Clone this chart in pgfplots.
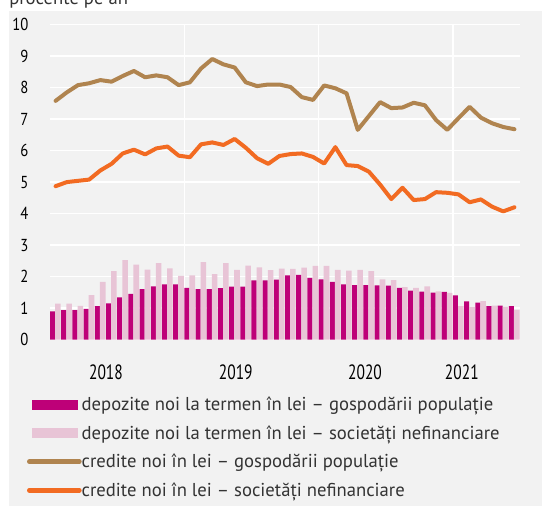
\documentclass[border=0pt]{standalone}
\usepackage{pgfplots}
\pgfplotsset{compat=1.18}
\usepackage{pgfplotstable}
\usepackage{fontspec}
\setmainfont{PT Sans}
\newfontfamily\ycond{PT Sans}[FakeStretch=0.85]
\newfontfamily\xcond{PT Sans}[FakeStretch=0.75]
\definecolor{bgc}{HTML}{F2F2F2}
\definecolor{darkmag}{HTML}{BE0078}
\definecolor{lightpink}{HTML}{E8C4D6}
\definecolor{brownl}{HTML}{B0844F}
\definecolor{orangel}{HTML}{F26B22}
\definecolor{txt}{HTML}{333333}

\pgfplotstableread{
x dark light brown orange
0 0.89 1.14 7.58 4.87
1 0.93 1.14 7.85 5.00
2 0.93 1.07 8.08 5.04
3 0.97 1.41 8.14 5.08
4 1.06 1.83 8.24 5.37
5 1.15 2.17 8.19 5.58
6 1.34 2.52 8.37 5.91
7 1.45 2.38 8.53 6.03
8 1.60 2.22 8.33 5.88
9 1.69 2.43 8.39 6.07
10 1.75 2.26 8.33 6.13
11 1.75 2.02 8.08 5.84
12 1.64 2.04 8.17 5.79
13 1.60 2.46 8.61 6.20
14 1.60 2.08 8.91 6.26
15 1.63 2.43 8.74 6.18
16 1.68 2.21 8.64 6.37
17 1.68 2.35 8.17 6.09
18 1.88 2.29 8.05 5.76
19 1.88 2.20 8.10 5.58
20 1.90 2.25 8.10 5.83
21 2.04 2.24 8.02 5.89
22 2.05 2.28 7.70 5.91
23 1.96 2.34 7.61 5.80
24 1.91 2.34 8.07 5.59
25 1.83 2.21 7.98 6.11
26 1.75 2.19 7.82 5.54
27 1.73 2.21 6.66 5.51
28 1.73 2.17 7.10 5.33
29 1.72 1.91 7.54 4.92
30 1.71 1.89 7.35 4.46
31 1.64 1.66 7.37 4.82
32 1.55 1.64 7.52 4.43
33 1.52 1.69 7.44 4.46
34 1.49 1.53 6.97 4.68
35 1.51 1.48 6.66 4.66
36 1.40 1.06 7.03 4.61
37 1.21 1.03 7.39 4.36
38 1.17 1.22 7.05 4.45
39 1.06 1.08 6.87 4.22
40 1.08 1.04 6.75 4.07
41 1.06 0.94 6.68 4.20
}\datatable

\begin{document}
\begin{tikzpicture}
\fill[bgc] (-30.4pt,-130pt) rectangle (375pt,246.4pt);
\node[anchor=base west, text=txt, font=\fontsize{14}{16}\selectfont, inner sep=0pt] at (-30.75pt,251.25pt) {procente pe an};
\begin{axis}[
  at={(0,0)}, anchor=south west, scale only axis,
  width=352.5pt, height=236.1pt,
  xmin=-0.5, xmax=41.5, ymin=0, ymax=10,
  axis line style={draw=none},
  major tick length=0pt,
  ytick={0,1,...,10},
  ymajorgrids,
  grid style={white, line width=1.1pt},
  xtick={4.5,16.1,27.65,36.3},
  xticklabels={2018,2019,2020,2021},
  extra x ticks={11.5,23.5,35.5},
  extra x tick labels={},
  extra x tick style={grid=major},
  /pgf/number format/assume math mode=true,
  yticklabel style={anchor=east, inner sep=0pt, xshift=-16pt, font=\ycond\fontsize{13}{15}\selectfont, text=black},
  xticklabel style={anchor=base, inner sep=0pt, yshift=-29.85pt, font=\xcond\fontsize{15.5}{18}\selectfont, text=black},
  legend style={
    at={(axis description cs:-0.0489,-0.343)}, anchor=west,
    draw=none, fill=none, inner sep=0pt, outer sep=0pt,
    row sep=9.6pt, column sep=0pt,
    font=\fontsize{14}{16}\selectfont, text=txt,
    nodes={inner sep=0pt},
    cells={anchor=west},
  },
]
\addplot[ybar, bar width=0.45, bar shift=-0.27, fill=darkmag, draw=none,
  legend image code/.code={\fill[darkmag] (2.25pt,-3.75pt) rectangle (36.75pt,3.75pt);}]
  table[x=x, y=dark] {\datatable};
\addlegendentry{depozite noi la termen în lei – gospodării populație}
\addplot[ybar, bar width=0.5, bar shift=0.21, fill=lightpink, draw=none,
  legend image code/.code={\fill[lightpink] (2.25pt,-3.75pt) rectangle (36.75pt,3.75pt);}]
  table[x=x, y=light] {\datatable};
\addlegendentry{depozite noi la termen în lei – societăți nefinanciare}
\addplot[brownl, line width=3pt, line cap=round, line join=round, mark=none,
  legend image code/.code={\draw[brownl, line width=3.5pt, line cap=round] (0pt,0pt) -- (37.5pt,0pt);}]
  table[x=x, y=brown] {\datatable};
\addlegendentry{credite noi în lei – gospodării populație}
\addplot[orangel, line width=3pt, line cap=round, line join=round, mark=none,
  legend image code/.code={\draw[orangel, line width=3.5pt, line cap=round] (0pt,0pt) -- (37.5pt,0pt);}]
  table[x=x, y=orange] {\datatable};
\addlegendentry{credite noi în lei – societăți nefinanciare}
\end{axis}
\pgfresetboundingbox
\path[use as bounding box] (-37.5pt,-124.875pt) rectangle (369pt,254.625pt);
\end{tikzpicture}
\end{document}
